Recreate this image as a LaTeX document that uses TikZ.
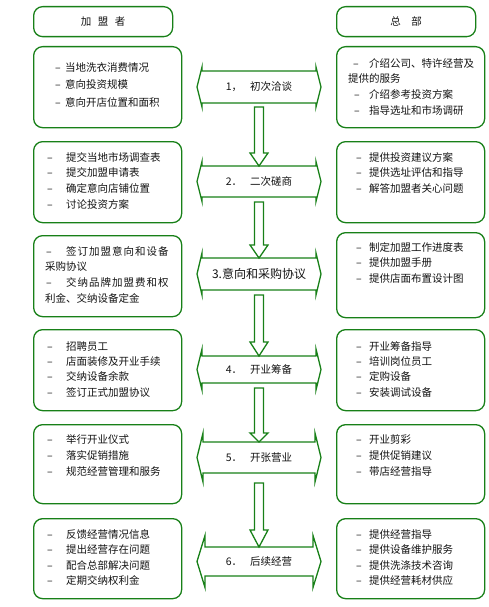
\documentclass[tikz,border=0pt]{standalone}
\usepackage{fontspec}
\setmainfont{Noto Sans CJK SC}
\usetikzlibrary{calc}
\definecolor{lg}{RGB}{24,128,24}
\definecolor{tx}{RGB}{20,20,20}
\newcommand\dsh[1]{\makebox[#1][l]{–}}
\newcommand\spr{\addfontfeature{LetterSpace=9.5}}
\newcommand\dblarrow[6]{% name, c, h, b, barb x, label
  \draw[arr] (#5,{#2-#3}) -- ({518-#5},{#2-#3}) -- ({518-#5},{#2-#4}) -- (321,#2)
    -- ({518-#5},{#2+#4}) -- ({518-#5},{#2+#3}) -- (#5,{#2+#3}) -- (#5,{#2+#4})
    -- (197,#2) -- (#5,{#2-#4}) -- cycle;
  \node[lbl] (#1) at (259,#2) {#6};
  \coordinate (#1t) at (259,{#2-#3});
}
\newcommand\varrow[3]{%
  \draw[arr] let \p1=(#1), \p2=(#2) in
    (\x1-4.5pt,\y1) -- (\x1-4.5pt,\y2+#3pt) -- (\x1-9pt,\y2+#3pt) -- (\x2,\y2)
    -- (\x1+9pt,\y2+#3pt) -- (\x1+4.5pt,\y2+#3pt) -- (\x1+4.5pt,\y1) -- cycle;
}
\begin{document}
\begin{tikzpicture}[x=1pt,y=-1pt,
  box/.style={draw=lg,line width=1.3pt,rounded corners=9pt,anchor=north west,
    minimum width=148pt,inner sep=0pt},
  head/.style={box,minimum width=139pt,minimum height=30pt,
    font=\fontsize{10.5}{12}\selectfont,text=tx},
  arr/.style={draw=lg,line width=1.3pt,fill=white,line join=miter},
  lbl/.style={inner sep=0pt,font=\fontsize{10.5}{12}\selectfont,text=tx},
  txt/.style={anchor=north west,inner sep=0pt,align=left,text=tx,
    font=\fontsize{10.5}{15.7}\selectfont},
]
\useasboundingbox (0,0) rectangle (489,607);
\fill[white] (0,0) rectangle (489,607);

% headers
\node[head] (hl) at (33,6) {加\hspace{6.5pt}盟\hspace{6.5pt}者};
\node[head] (hr) at (336,6) {总\hspace{10.5pt}部};

% boxes
\node[box,minimum height=81pt] (L1) at (33,46) {};
\node[box,minimum height=81pt] (R1) at (336,46) {};
\node[box,minimum height=81pt] (L2) at (33,141) {};
\node[box,minimum height=81pt] (R2) at (336,141) {};
\node[box,minimum height=81pt] (L3) at (33,235) {};
\node[box,minimum height=85pt] (R3) at (336,232) {};
\node[box,minimum height=81pt] (L4) at (33,329) {};
\node[box,minimum height=81pt] (R4) at (336,329) {};
\node[box,minimum height=79pt] (L5) at (33,424) {};
\node[box,minimum height=79pt] (R5) at (336,424) {};
\node[box,minimum height=80pt] (L6) at (33,518) {};
\node[box,minimum height=80pt] (R6) at (336,518) {};

% texts
\node[txt,font=\fontsize{10.5}{17.5}\selectfont] (tL1) at (55,62) {\dsh{10pt}当地洗衣消费情况\\\dsh{10pt}意向投资规模\\\dsh{10pt}意向开店位置和面积};
\node[txt] (tR1) at (348,58) {\hspace{5pt}\dsh{16pt}介绍公司、特许经营及\\提供的服务\\\hspace{6pt}\dsh{15pt}介绍参考投资方案\\\hspace{6pt}\dsh{15pt}指导选址和市场调研};
\node[txt] (tL2) at (47,152) {\dsh{19pt}提交当地市场调查表\\\dsh{19pt}提交加盟申请表\\\dsh{19pt}确定意向店铺位置\\\dsh{19pt}讨论投资方案};
\node[txt] (tR2) at (356,152) {\dsh{13pt}提供投资建议方案\\\dsh{13pt}提供选址评估和指导\\\dsh{13pt}解答加盟者关心问题};
\node[txt,font=\fontsize{10.5}{15.8}\selectfont] (tL3) at (45,246) {\hspace{1pt}\dsh{20pt}{\spr 签订加盟意向和设备}\\采购协议\\\hspace{1pt}\dsh{20pt}{\spr 交纳品牌加盟费和权}\\利金、交纳设备定金};
\node[txt] (tR3) at (356,242) {\dsh{13pt}制定加盟工作进度表\\\dsh{13pt}提供加盟手册\\\dsh{13pt}提供店面布置设计图};
\node[txt,font=\fontsize{10.5}{15.4}\selectfont] (tL4) at (47,341) {\dsh{19pt}招聘员工\\\dsh{19pt}店面装修及开业手续\\\dsh{19pt}交纳设备余款\\\dsh{19pt}签订正式加盟协议};
\node[txt,font=\fontsize{10.5}{15.4}\selectfont] (tR4) at (356,341) {\dsh{13pt}开业筹备指导\\\dsh{13pt}培训岗位员工\\\dsh{13pt}定购设备\\\dsh{13pt}安装调试设备};
\node[txt,font=\fontsize{10.5}{16}\selectfont] (tL5) at (47,434) {\dsh{19pt}举行开业仪式\\\dsh{19pt}落实促销措施\\\dsh{19pt}规范经营管理和服务};
\node[txt,font=\fontsize{10.5}{16}\selectfont] (tR5) at (356,434) {\dsh{13pt}开业剪彩\\\dsh{13pt}提供促销建议\\\dsh{13pt}带店经营指导};
\node[txt,font=\fontsize{10.5}{15.6}\selectfont] (tL6) at (47,529) {\dsh{19pt}反馈经营情况信息\\\dsh{19pt}提出经营存在问题\\\dsh{19pt}配合总部解决问题\\\dsh{19pt}定期交纳权利金};
\node[txt,font=\fontsize{10.5}{15.6}\selectfont] (tR6) at (356,529) {\dsh{13pt}提供经营指导\\\dsh{13pt}提供设备维护服务\\\dsh{13pt}提供洗涤技术咨询\\\dsh{13pt}提供经营耗材供应};

% double arrows (steps)
\dblarrow{s1}{87}{16}{20}{202}{1，\hspace{8pt}初次洽谈}
\dblarrow{s2}{181.5}{15.5}{20}{202}{2．\hspace{8pt}二次磋商}
\dblarrow{s3}{274}{16}{21}{202}{\fontsize{12}{14}\selectfont 3.意向和采购协议}
\dblarrow{s4}{369.5}{13.5}{20.5}{202}{4．\hspace{8pt}开业筹备}
\dblarrow{s5}{457.5}{15.5}{24.5}{203}{5．\hspace{8pt}开张营业}
\dblarrow{s6}{561.5}{14.5}{26}{205}{6．\hspace{8pt}后续经营}

% connectors between steps
\coordinate (v1) at (259,107);
\coordinate (v2) at (259,202);
\coordinate (v3) at (259,295);
\coordinate (v4) at (259,388);
\coordinate (v5) at (259,483);
\varrow{v1}{s2t}{13}
\varrow{v2}{s3t}{13}
\varrow{v3}{s4t}{14}
\varrow{v4}{s5t}{9}
\varrow{v5}{s6t}{17}
\end{tikzpicture}
\end{document}
